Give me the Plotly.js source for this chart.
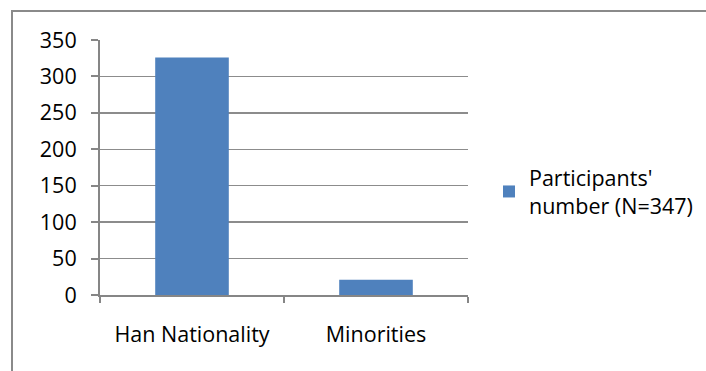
<!DOCTYPE html>
<html>
<head>
<meta charset="utf-8">
<script src="https://cdn.plot.ly/plotly-3.0.1.min.js"></script>
<style>
  html, body { margin: 0; padding: 0; background: #fff; overflow: hidden; }
  #wrap { position: relative; width: 706px; height: 371px; overflow: hidden; }
  #chart { position: absolute; left: 0; top: 0; width: 706px; height: 371px; }
  #frame { position: absolute; left: 11px; top: 10px; width: 800px; height: 500px;
           border: 2px solid #8a8a8a; pointer-events: none; }
</style>
</head>
<body>
<div id="wrap">
  <div id="chart"></div>
  <div id="frame"></div>
</div>
<script>
const categories = ["Han Nationality", "Minorities"];
const participants = [326, 21];
const seriesName = "Participants'<br>number (N=347)";
const yTickValues = [0, 50, 100, 150, 200, 250, 300, 350];

const font = { family: "'Open Sans', sans-serif", size: 21.5, color: "#000" };

const trace = {
  type: "bar",
  x: categories,
  y: participants,
  name: seriesName,
  marker: { color: "#4F81BD", line: { width: 0 } },
  showlegend: true,
  hoverinfo: "none"
};

const layout = {
  width: 706,
  height: 371,
  margin: { l: 100, r: 238, t: 40, b: 76, pad: 0, autoexpand: false },
  paper_bgcolor: "rgba(0,0,0,0)",
  plot_bgcolor: "rgba(0,0,0,0)",
  font: font,
  bargap: 0.6,
  showlegend: true,
  legend: {
    xref: "container", yref: "container",
    x: 0.6926, xanchor: "left",
    y: 0.4838, yanchor: "middle",
    font: font,
    bgcolor: "rgba(0,0,0,0)",
    borderwidth: 0,
    itemclick: false
  },
  xaxis: {
    type: "category",
    automargin: false,
    showline: true, linecolor: "#868686", linewidth: 2,
    showgrid: false, zeroline: false,
    ticks: "outside", tickson: "boundaries", ticklen: 6, tickwidth: 2, tickcolor: "#868686",
    ticklabelstandoff: 19,
    tickfont: font
  },
  yaxis: {
    range: [0, 350],
    automargin: false,
    tickvals: yTickValues,
    showline: true, linecolor: "#868686", linewidth: 2,
    showgrid: true, gridcolor: "#8c8c8c", gridwidth: 1.5,
    zeroline: false,
    ticks: "outside", ticklen: 7, tickwidth: 2, tickcolor: "#868686",
    ticklabelstandoff: 10,
    tickfont: font
  }
};

Plotly.newPlot("chart", [trace], layout, { staticPlot: true, displayModeBar: false });
</script>
</body>
</html>
